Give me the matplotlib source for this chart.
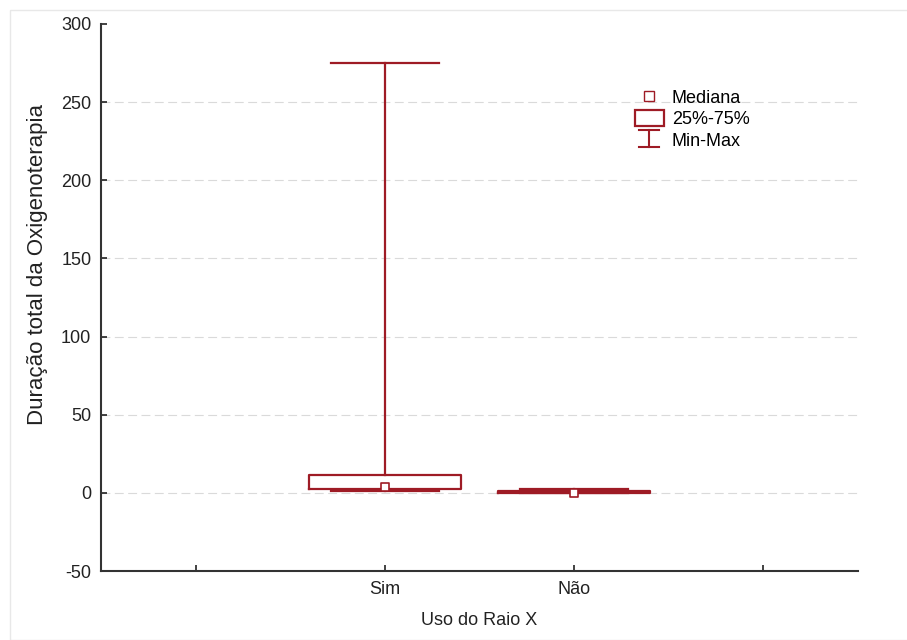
import matplotlib
matplotlib.use("Agg")
import matplotlib.pyplot as plt
from matplotlib.legend_handler import HandlerBase
from matplotlib.lines import Line2D
from matplotlib.patches import Rectangle

# data
groups = ["Sim", "Não"]
positions = [1, 2]
minimum = [1, 0]
q1 = [2.5, 0]
median = [4, 0]
q3 = [11.5, 1.5]
maximum = [275, 2.5]

tick_positions = [0, 1, 2, 3]
tick_labels = ["", "Sim", "Não", ""]
y_ticks = [-50, 0, 50, 100, 150, 200, 250, 300]

RED = "#9e1b25"

plt.rcParams["font.family"] = ["Liberation Sans", "DejaVu Sans"]
plt.rcParams["font.size"] = 13
plt.rcParams["axes.unicode_minus"] = False


class MinMaxHandler(HandlerBase):
    def create_artists(self, legend, orig_handle, xdescent, ydescent,
                       width, height, fontsize, trans):
        cx = width / 2 - xdescent
        cy = height / 2 - ydescent
        top = cy + 0.62 * height
        bottom = cy - 0.46 * height
        half = width * 0.34
        artists = [
            Line2D([cx, cx], [bottom, top], color=RED, lw=1.5),
            Line2D([cx - half, cx + half], [top, top], color=RED, lw=1.5),
            Line2D([cx - half, cx + half], [bottom, bottom], color=RED, lw=1.5),
        ]
        for a in artists:
            a.set_transform(trans)
        return artists


fig = plt.figure(figsize=(9.07, 6.4), dpi=100)
fig.patches.append(Rectangle((10 / 907, 0), 1, 630 / 640, transform=fig.transFigure,
                             fill=False, edgecolor="#e8e8e8", lw=1.0))
ax = fig.add_axes([101 / 907, 69 / 640, 757 / 907, 547 / 640])

stats = []
for i, g in enumerate(groups):
    stats.append({
        "label": g,
        "whislo": minimum[i],
        "q1": q1[i],
        "med": median[i],
        "q3": q3[i],
        "whishi": maximum[i],
        "fliers": [],
    })

ax.bxp(
    stats,
    positions=positions,
    widths=0.8,
    capwidths=0.57,
    showfliers=False,
    boxprops=dict(color=RED, lw=1.6),
    whiskerprops=dict(color=RED, lw=1.6),
    capprops=dict(color=RED, lw=1.6),
    medianprops=dict(visible=False),
    manage_ticks=False,
)
ax.scatter(positions, median, marker="s", s=40, facecolor="white",
           edgecolor=RED, linewidth=1.2, zorder=5)

ax.set_xlim(-0.5, 3.5)
ax.set_ylim(-50, 300)
ax.set_xticks(tick_positions)
ax.set_xticklabels(tick_labels)
ax.set_yticks(y_ticks)
ax.tick_params(direction="in", length=4, width=1.2, colors="#222222", pad=7,
               labelsize=13, labelcolor="#222222")

ax.spines["top"].set_visible(False)
ax.spines["right"].set_visible(False)
for side in ["left", "bottom"]:
    ax.spines[side].set_linewidth(1.5)
    ax.spines[side].set_color("#333333")

ax.yaxis.grid(True, color="#dadada", linestyle=(0, (8, 4)), lw=0.8)
ax.set_axisbelow(True)
ax.yaxis.get_gridlines()[-1].set_visible(False)

ax.set_xlabel("Uso do Raio X", fontsize=13, color="#222222", labelpad=10)
ax.set_ylabel("Duração total da Oxigenoterapia", fontsize=16, color="#222222")
ax.yaxis.set_label_coords(-0.07, 0.56)

h_med = Line2D([], [], marker="s", linestyle="none", markersize=6.5,
               markerfacecolor="white", markeredgecolor=RED, markeredgewidth=1.0)
h_box = Rectangle((0, 0), 1, 1, facecolor="white", edgecolor=RED, lw=1.6)
h_minmax = object()
ax.legend(
    [h_med, h_box, h_minmax],
    ["Mediana", "25%-75%", "Min-Max"],
    handler_map={h_minmax: MinMaxHandler()},
    loc="upper left",
    bbox_to_anchor=(0.705, 0.882),
    frameon=False,
    fontsize=13,
    handlelength=1.6,
    handleheight=0.95,
    handletextpad=0.45,
    labelspacing=0.2,
    borderpad=0,
    borderaxespad=0,
)

fig.savefig("out.png", dpi=100)
